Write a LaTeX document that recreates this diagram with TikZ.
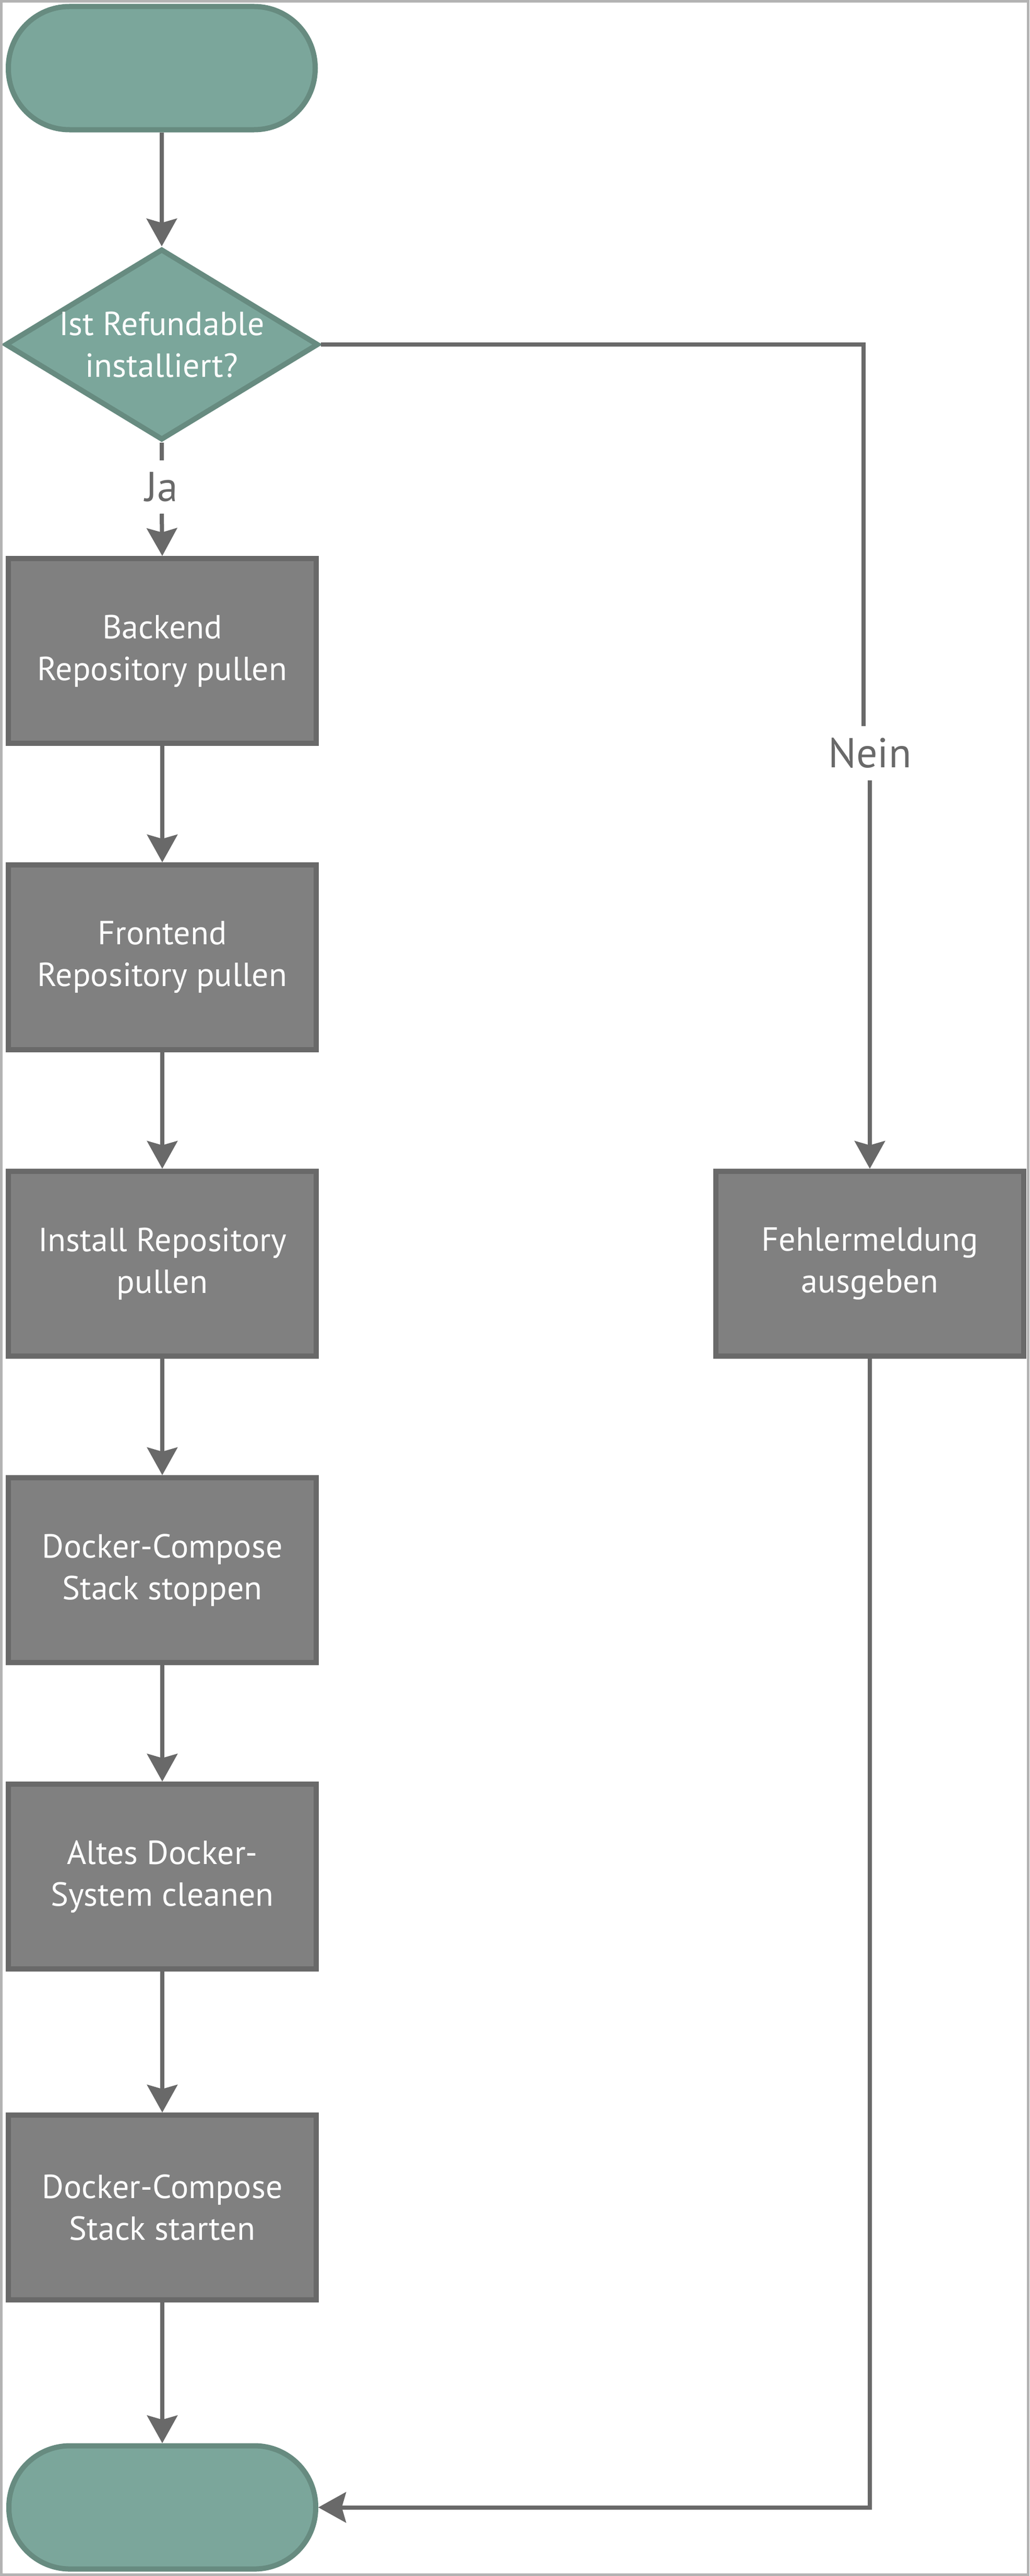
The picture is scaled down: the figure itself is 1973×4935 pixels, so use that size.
\documentclass[tikz,border=0pt]{standalone}
\usepackage{fontspec}
\setmainfont{PT Sans}
\usetikzlibrary{shapes.geometric,arrows.meta}
\definecolor{tealfill}{HTML}{7BA69B}
\definecolor{tealdraw}{HTML}{678B80}
\definecolor{grayfill}{HTML}{808080}
\definecolor{graydraw}{HTML}{696969}
\definecolor{framecol}{HTML}{B3B3B3}
\newcommand\myboxfont{\fontsize{64}{80}\selectfont}
\newcommand\mylblfont{\fontsize{80}{96}\selectfont}
\begin{document}
\begin{tikzpicture}[x=1pt,y=-1pt,
  terminal/.style={draw=tealdraw,fill=tealfill,line width=10pt,rectangle,rounded corners=117pt,minimum width=588pt,minimum height=236pt,inner sep=0pt},
  decision/.style={draw=tealdraw,fill=tealfill,line width=10pt,diamond,aspect=1.64,minimum width=556pt,minimum height=300pt,inner sep=0pt,text=white,align=center,font=\myboxfont},
  procbox/.style={draw=graydraw,fill=grayfill,line width=10pt,rectangle,minimum width=590pt,minimum height=354pt,inner sep=0pt,text=white,align=center,font=\myboxfont},
  conn/.style={draw=graydraw,line width=8pt},
  arr/.style={conn,-{Stealth[length=53pt,width=58pt,inset=8pt]}},
  lbl/.style={text=graydraw,font=\mylblfont,inner sep=0pt,minimum height=102pt},
]
\useasboundingbox (0,0) rectangle (1973,4935);

\node[terminal] (start) at (310,130.5) {};
\node[decision] (dec) at (310,660) {Ist Refundable\\installiert?};
\node[lbl] (ja) at (310,933) {Ja};
\node[procbox] (b1) at (311,1247) {Backend\\Repository pullen};
\node[procbox] (b2) at (311,1834) {Frontend\\Repository pullen};
\node[procbox] (b3) at (311,2421) {Install Repository\\pullen};
\node[procbox] (b4) at (311,3008) {Docker-Compose\\Stack stoppen};
\node[procbox] (b5) at (311,3595) {Altes Docker-\\System cleanen};
\node[procbox] (b6) at (311,4229) {Docker-Compose\\Stack starten};
\node[terminal] (end) at (311,4803.5) {};
\node[lbl,minimum height=104pt] (nein) at (1667,1443) {Nein};
\node[procbox] (err) at (1667,2421) {Fehlermeldung\\ausgeben};

\draw[arr] (start.south) -- (dec.north);
\draw[conn] (dec.south) -- (ja.north);
\draw[arr] (ja.south) -- (b1.north);
\draw[arr] (b1.south) -- (b2.north);
\draw[arr] (b2.south) -- (b3.north);
\draw[arr] (b3.south) -- (b4.north);
\draw[arr] (b4.south) -- (b5.north);
\draw[arr] (b5.south) -- (b6.north);
\draw[arr] (b6.south) -- (end.north);
\draw[conn] (dec.east) -| ([xshift=-12pt]nein.north);
\draw[arr] (nein.south) -- (err.north);
\draw[arr] (err.south) |- (end.east);

\draw[framecol,line width=5pt] (2.5,2.5) rectangle (1970.5,4932.5);
\end{tikzpicture}
\end{document}
